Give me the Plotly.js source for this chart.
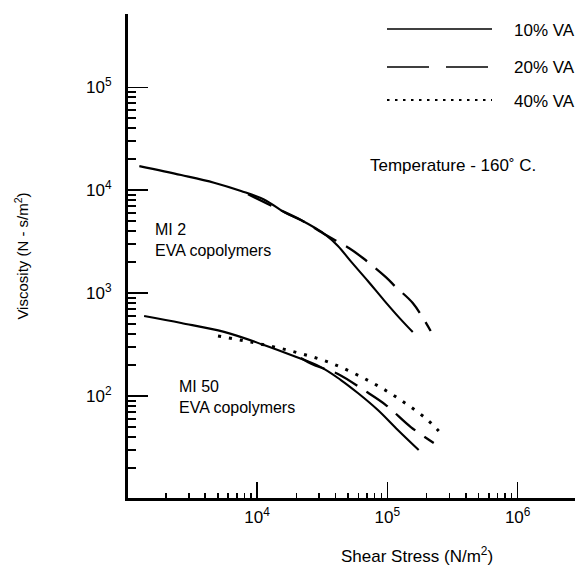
<!DOCTYPE html>
<html>
<head>
<meta charset="utf-8">
<script src="https://cdn.plot.ly/plotly-3.0.1.min.js"></script>
<style>html,body{margin:0;padding:0;background:#fff;}</style>
</head>
<body>
<div id="chart" style="width:585px;height:571px;"></div>
<script>
// ---- Data ----
// MI 2 EVA copolymers
const mi2_va10_x = [1250, 2620, 4680, 7540, 11300, 16500, 21700, 33800, 41800, 52500, 70900, 94000, 126800, 156700];
const mi2_va10_y = [17100, 14000, 11800, 9800, 8100, 6000, 5120, 3660, 2870, 2030, 1310, 855, 555, 418];
const mi2_va20_x = [8530, 13500, 21700, 33800, 50700, 64900, 97400, 116200, 156700, 215000];
const mi2_va20_y = [9140, 6840, 5120, 3660, 2735, 2190, 1430, 1143, 800, 428];
// MI 50 EVA copolymers
const mi50_va10_x = [1360, 2620, 5590, 11300, 18240, 30900, 44000, 59400, 84600, 120300, 174000];
const mi50_va10_y = [598, 512, 420, 313, 250, 191, 143, 107, 73.1, 46.8, 29.9];
const mi50_va20_x = [21700, 27350, 41800, 66100, 97400, 151400, 227000];
const mi50_va20_y = [234, 200, 164, 114, 81.8, 50.0, 35.0];
const mi50_va40_x = [5020, 9000, 18240, 36900, 74800, 126800, 204000, 248000];
const mi50_va40_y = [383, 334, 274, 209, 137, 91.4, 58.5, 45.7];

// Legend / labels
const seriesNames = ["10% VA", "20% VA", "40% VA"];
const xTitle = "Shear Stress (N/m<sup>2</sup>)";
const yTitle = "Viscosity (N - s/m<sup>2</sup>)";
const tempLabel = "Temperature - 160˚ C.";
const groupLabels = ["MI 2<br>EVA copolymers", "MI 50<br>EVA copolymers"];

// Tick values and labels
const xMajorTicks = [1e4, 1e5, 1e6];
const xMajorText = ["10<sup>4</sup>", "10<sup>5</sup>", "10<sup>6</sup>"];
const yMajorTicks = [1e2, 1e3, 1e4, 1e5];
const yMajorText = ["10<sup>2</sup>", "10<sup>3</sup>", "10<sup>4</sup>", "10<sup>5</sup>"];
const xMinorTicks = [2e3,3e3,4e3,5e3,6e3,7e3,8e3,9e3, 2e4,3e4,4e4,5e4,6e4,7e4,8e4,9e4, 2e5,3e5,4e5,5e5,6e5,7e5,8e5,9e5];
const yMinorTicks = [20,30,40,50,60,70,80,90, 200,300,400,500,600,700,800,900, 2e3,3e3,4e3,5e3,6e3,7e3,8e3,9e3, 2e4,3e4,4e4,5e4,6e4,7e4,8e4,9e4];

const FONT = "Liberation Sans, Arial, Helvetica, sans-serif";
const DASH = "26px,11px";
const DOT = "3px,8px";

const traces = [
  {x: mi2_va10_x, y: mi2_va10_y, name: seriesNames[0], line: {color: "#000", width: 2.1}},
  {x: mi2_va20_x, y: mi2_va20_y, name: seriesNames[1], line: {color: "#000", width: 2.3, dash: DASH}},
  {x: mi50_va10_x, y: mi50_va10_y, name: seriesNames[0], line: {color: "#000", width: 2.1}},
  {x: mi50_va20_x, y: mi50_va20_y, name: seriesNames[1], line: {color: "#000", width: 2.3, dash: DASH}},
  {x: mi50_va40_x, y: mi50_va40_y, name: seriesNames[2], line: {color: "#000", width: 3, dash: DOT}}
].map(t => {
  t.line.shape = "spline"; t.line.smoothing = 1;
  return Object.assign({type: "scatter", mode: "lines", showlegend: false, hoverinfo: "skip"}, t);
});

// paper-coordinate helpers for layout items (not data)
const L = 128, R = 575, T = 14, B = 498;
const px = v => (v - L) / (R - L);
const py = v => (B - v) / (B - T);

const annotations = [
  {x: px(153), y: py(240), text: groupLabels[0], font: {family: FONT, size: 16, color: "#000"}},
  {x: px(177), y: py(397), text: groupLabels[1], font: {family: FONT, size: 16, color: "#000"}},
  {x: px(368), y: py(165), text: tempLabel},
  {x: px(512), y: py(30), text: seriesNames[0]},
  {x: px(512), y: py(67), text: seriesNames[1]},
  {x: px(512), y: py(101), text: seriesNames[2]},
  {x: px(417), y: py(555), text: xTitle, xanchor: "center", font: {family: FONT, size: 17, color: "#000"}}
].map(a => Object.assign({xref: "paper", yref: "paper", xanchor: "left", yanchor: "middle", align: "left",
  showarrow: false, font: {family: FONT, size: 17, color: "#000"}}, a));

const shapes = [
  {y: py(29), dash: "solid", w: 1.5},
  {y: py(67), dash: "42px,17px", w: 1.5},
  {y: py(100), dash: "2.5px,5.5px", w: 2}
].map(s => ({type: "line", xref: "paper", yref: "paper", x0: px(387), x1: px(492), y0: s.y, y1: s.y,
  line: {color: "#000", width: s.w, dash: s.dash}}));

const layout = {
  width: 585, height: 571,
  margin: {l: L, r: 585 - R, t: T, b: 571 - B},
  paper_bgcolor: "#fff", plot_bgcolor: "#fff",
  font: {family: FONT, size: 17, color: "#000"},
  showlegend: false,
  xaxis: {
    type: "log", range: [3.01, 6.44],
    tickmode: "array", tickvals: xMajorTicks, ticktext: xMajorText,
    ticks: "inside", ticklen: 16, tickwidth: 1.2, tickcolor: "#000",
    ticklabelstandoff: 2,
    minor: {tickmode: "array", tickvals: xMinorTicks, ticks: "inside", ticklen: 5, tickwidth: 1.5, tickcolor: "#000", showgrid: false},
    showline: true, linewidth: 3, linecolor: "#000",
    showgrid: false, zeroline: false,
    tickfont: {family: FONT, size: 17}
  },
  yaxis: {
    type: "log", range: [1.01, 5.71],
    tickmode: "array", tickvals: yMajorTicks, ticktext: yMajorText,
    ticks: "inside", ticklen: 20, tickwidth: 1.2, tickcolor: "#000",
    ticklabelstandoff: 10,
    minor: {tickmode: "array", tickvals: yMinorTicks, ticks: "inside", ticklen: 8, tickwidth: 1.5, tickcolor: "#000", showgrid: false},
    showline: true, linewidth: 3, linecolor: "#000",
    showgrid: false, zeroline: false,
    tickfont: {family: FONT, size: 17},
    title: {text: yTitle, font: {family: FONT, size: 15}, standoff: 54}
  },
  annotations: annotations,
  shapes: shapes
};

Plotly.newPlot("chart", traces, layout, {displayModeBar: false, staticPlot: true});
</script>
</body>
</html>
